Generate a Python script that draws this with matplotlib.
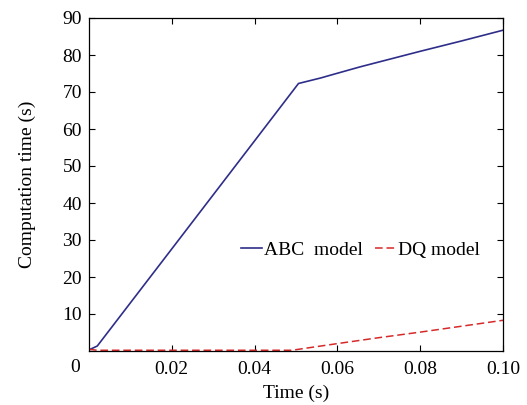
import matplotlib
matplotlib.use("Agg")
import matplotlib.pyplot as plt

# Data
abc_t = [0.0, 0.002, 0.020, 0.040, 0.0506, 0.0560, 0.0585, 0.0655, 0.080, 0.090, 0.100]
abc_y = [0.3, 1.35, 27.6, 56.8, 72.3, 73.8, 74.6, 76.8, 81.0, 83.8, 86.7]

dq_t = [0.0, 0.002, 0.020, 0.040, 0.049, 0.060, 0.070, 0.080, 0.090, 0.100]
dq_y = [0.45, 0.2, 0.2, 0.2, 0.2, 2.0, 3.6, 5.1, 6.7, 8.3]

xticks = [0.02, 0.04, 0.06, 0.08, 0.10]
xticklabels = ["0.02", "0.04", "0.06", "0.08", "0.10"]
yticks = [10, 20, 30, 40, 50, 60, 70, 80, 90]

plt.rcParams['font.family'] = ['Liberation Serif', 'DejaVu Serif']

fig = plt.figure(figsize=(5.27, 4.05), dpi=100)
ax = fig.add_axes([89/527, 54/405, 414/527, 333/405])

ax.plot(abc_t, abc_y, color='#2e2e8a', lw=1.2, label='ABC  model')
ax.plot(dq_t, dq_y, color='#d62a2a', lw=1.1, dashes=(5, 2.5), label='DQ model')

ax.set_xlim(0, 0.10)
ax.set_ylim(0, 90)
ax.set_xticks(xticks)
ax.set_xticklabels(xticklabels)
ax.set_yticks(yticks)
ax.tick_params(direction='in', top=True, right=True, length=4, width=0.8,
               labelsize=14)
ax.tick_params(axis='x', pad=7)
ax.tick_params(axis='y', pad=5)
for s in ax.spines.values():
    s.set_linewidth(0.9)

ax.text(75, 405 - 368, "0", transform=None, fontsize=14,
        ha='center', va='center')

ax.set_xlabel("Time (s)", fontsize=14, labelpad=5)
ax.set_ylabel("Computation time (s)", fontsize=14, labelpad=19)

ax.legend(loc='center', bbox_to_anchor=(0.655, 0.303), ncol=2, frameon=False,
          fontsize=14, handlelength=1.1, handletextpad=0.1, columnspacing=0.6)

fig.savefig("out.png", dpi=100)
